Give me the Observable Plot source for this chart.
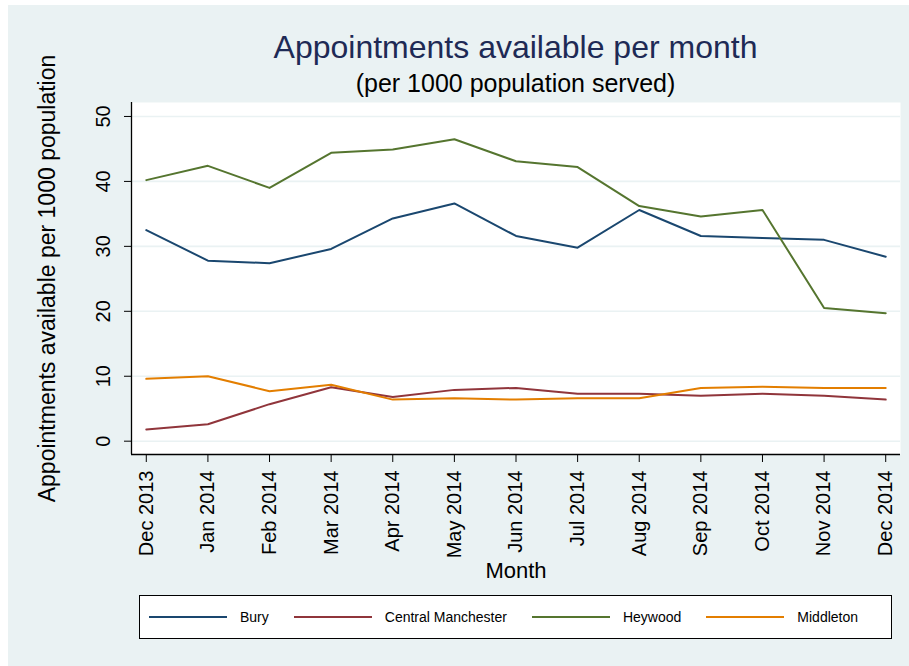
<!DOCTYPE html>
<html>
<head>
<meta charset="utf-8">
<script src="https://cdn.jsdelivr.net/npm/d3@7"></script>
<script src="https://cdn.jsdelivr.net/npm/@observablehq/plot@0.6"></script>
<style>
  body { margin: 0; background: #ffffff; font-family: "Liberation Sans", Arial, Helvetica, sans-serif; }
  #page { position: relative; width: 909px; height: 666px; overflow: hidden; }
  #bg { position: absolute; left: 8px; top: 5px; width: 901px; height: 661px; background: #eaf2f3; }
  #title { position: absolute; left: 131px; width: 769px; top: 31px; text-align: center;
           font-size: 32px; line-height: 32px; color: #1e2a55; white-space: nowrap; }
  #subtitle { position: absolute; left: 131px; width: 769px; top: 71px; text-align: center;
              font-size: 25px; line-height: 25px; color: #000; white-space: nowrap; }
  #chart { position: absolute; left: 0; top: 95px; }
  #chart svg { overflow: visible; }
  #legend { position: absolute; left: 139px; top: 595px; width: 753px; height: 44px; box-sizing: border-box;
            border: 1px solid #000; background: #fff; display: flex; align-items: center; padding-left: 9px; }
  .item { display: flex; align-items: center; margin-right: 25px; font-size: 14px; color: #000; white-space: nowrap; }
  .swatch { width: 78px; height: 0; border-top: 2px solid; margin-right: 13px; }
</style>
</head>
<body>
<div id="page">
  <div id="bg"></div>
  <div id="title">Appointments available per month</div>
  <div id="subtitle">(per 1000 population served)</div>
  <div id="chart"></div>
  <div id="legend"></div>
</div>
<script>
// ---- data ----
const months = ["Dec 2013", "Jan 2014", "Feb 2014", "Mar 2014", "Apr 2014", "May 2014", "Jun 2014",
                "Jul 2014", "Aug 2014", "Sep 2014", "Oct 2014", "Nov 2014", "Dec 2014"];
const seriesNames = ["Bury", "Central Manchester", "Heywood", "Middleton"];
const seriesColors = ["#1a476f", "#90353b", "#55752f", "#e37e00"];
const bury              = [32.5, 27.8, 27.4, 29.6, 34.3, 36.6, 31.6, 29.8, 35.6, 31.6, 31.3, 31.0, 28.4];
const centralManchester = [1.8, 2.6, 5.7, 8.3, 6.8, 7.9, 8.2, 7.3, 7.3, 7.0, 7.3, 7.0, 6.4];
const heywood           = [40.2, 42.4, 39.0, 44.4, 44.9, 46.5, 43.1, 42.2, 36.2, 34.6, 35.6, 20.5, 19.7];
const middleton         = [9.6, 10.0, 7.7, 8.7, 6.4, 6.6, 6.4, 6.6, 6.6, 8.2, 8.4, 8.2, 8.2];
const yTicks = [0, 10, 20, 30, 40, 50];
const yTitle = "Appointments available per 1000 population";
const xTitle = "Month";

const seriesValues = [bury, centralManchester, heywood, middleton];
const rows = [];
seriesNames.forEach((name, s) => {
  seriesValues[s].forEach((v, i) => rows.push({series: name, i, value: v}));
});
const monthIdx = months.map((m, i) => i);

const xDomain = [-0.24, months.length - 1 + 0.24];
const yDomain = [-2.05, 52.15];
const font = "'Liberation Sans', Arial, Helvetica, sans-serif";

const chart = Plot.plot({
  width: 909,
  height: 490,
  marginLeft: 131,
  marginRight: 9,
  marginTop: 7,
  marginBottom: 131,
  style: {background: "transparent", fontFamily: font, color: "#000", overflow: "visible"},
  x: {type: "linear", domain: xDomain, label: null},
  y: {domain: yDomain, label: null},
  color: {domain: seriesNames, range: seriesColors},
  marks: [
    Plot.frame({fill: "white", stroke: "none"}),
    Plot.ruleY(yTicks, {stroke: "#eaf2f3", strokeWidth: 1.6}),
    Plot.axisY(yTicks, {tickSize: 7, tickFormat: () => "", label: null, stroke: "#000"}),
    Plot.axisX(monthIdx, {tickSize: 8, tickFormat: () => "", label: null, stroke: "#000"}),
    Plot.text(yTicks, {y: d => d, text: d => String(d), frameAnchor: "left", rotate: -90,
      textAnchor: "middle", lineAnchor: "middle", dx: -28, fontSize: 20, fill: "#000"}),
    Plot.text(monthIdx, {x: d => d, text: d => months[d], frameAnchor: "bottom", rotate: -90,
      textAnchor: "end", lineAnchor: "middle", dy: 16, fontSize: 20, fill: "#000"}),
    Plot.text([yTitle], {text: d => d, frameAnchor: "left", rotate: -90, textAnchor: "middle",
      lineAnchor: "middle", dx: -84, fontSize: 23, fill: "#000"}),
    Plot.text([xTitle], {text: d => d, frameAnchor: "bottom", textAnchor: "middle",
      lineAnchor: "middle", dy: 116, fontSize: 22, fill: "#000"}),
    Plot.line(rows, {x: "i", y: "value", z: "series", stroke: "series", strokeWidth: 2}),
    Plot.ruleX([xDomain[0]], {stroke: "#000", strokeWidth: 1.3}),
    Plot.ruleY([yDomain[0]], {stroke: "#000", strokeWidth: 1.3})
  ]
});
document.getElementById("chart").appendChild(chart);

// legend
const legend = document.getElementById("legend");
seriesNames.forEach((name, s) => {
  const item = document.createElement("div");
  item.className = "item";
  const sw = document.createElement("div");
  sw.className = "swatch";
  sw.style.borderTopColor = seriesColors[s];
  const label = document.createElement("span");
  label.textContent = name;
  item.appendChild(sw);
  item.appendChild(label);
  legend.appendChild(item);
});
</script>
</body>
</html>
